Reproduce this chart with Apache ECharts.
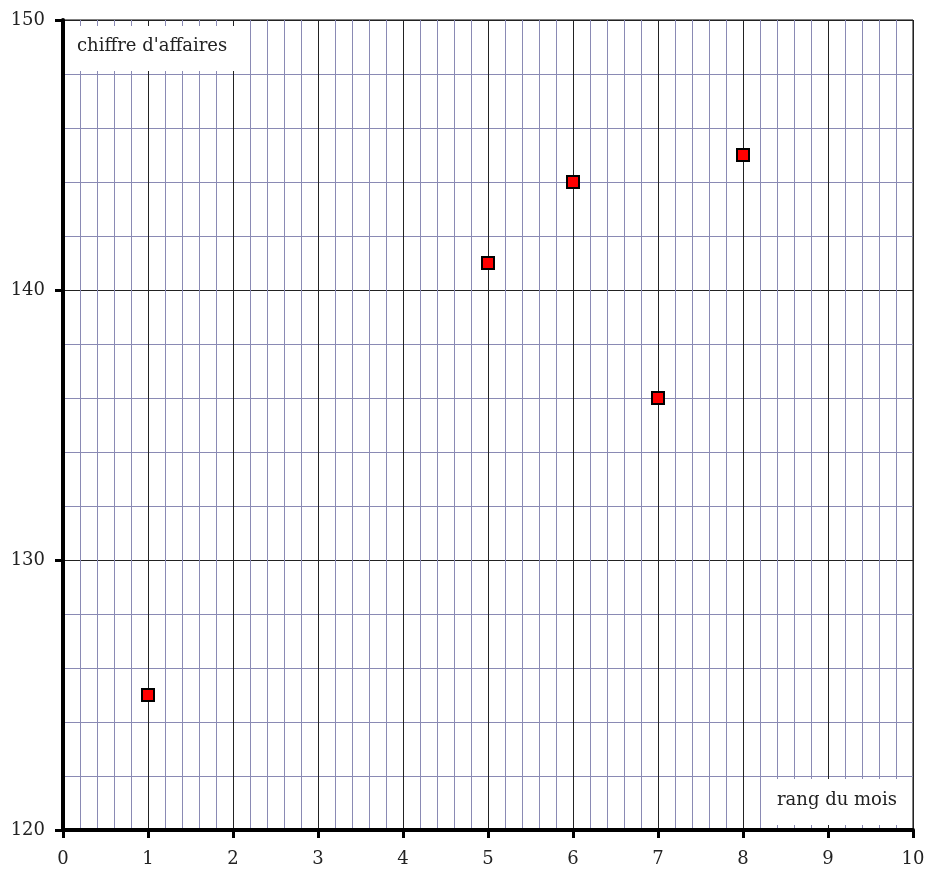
<!DOCTYPE html>
<html><head><meta charset="utf-8">
<script src="https://cdn.jsdelivr.net/npm/echarts@6/dist/echarts.min.js"></script>
<style>html,body{margin:0;padding:0;background:#fff}#c{width:928px;height:872px}</style>
</head><body><div id="c"></div>
<script>
const monthRank = [1, 5, 6, 7, 8];
const revenue = [125, 141, 144, 136, 145];
const xTicks = [0,1,2,3,4,5,6,7,8,9,10];
const yTicks = [120,130,140,150];
const xTitle = "rang du mois";
const yTitle = "chiffre d'affaires";

const font = "'DejaVu Serif', 'Liberation Serif', serif";
const chart = echarts.init(document.getElementById('c'));
chart.setOption({
  animation: false,
  backgroundColor: '#fff',
  grid: {left: 63, top: 20, right: 15, bottom: 42, show: true, borderColor: '#000', borderWidth: 1},
  graphic: [
    {type: 'rect', left: 66, top: 26, z: 100, shape: {width: 172, height: 45}, style: {fill: '#fff'}},
    {type: 'text', left: 77, top: 37, z: 101, style: {text: yTitle, font: "18px 'DejaVu Serif'", fill: '#222'}},
    {type: 'rect', left: 765, top: 779, z: 100, shape: {width: 146, height: 46}, style: {fill: '#fff'}},
    {type: 'text', left: 777, top: 791, z: 101, style: {text: xTitle, font: "18px 'DejaVu Serif'", fill: '#222'}}
  ],
  xAxis: {
    type: 'value', min: xTicks[0], max: xTicks[xTicks.length-1], interval: 1,
    axisLine: {show: true, onZero: false, lineStyle: {color: '#000', width: 4}},
    axisTick: {show: true, length: 8, lineStyle: {color: '#000', width: 3}},
    axisLabel: {margin: 20, fontFamily: font, fontSize: 18, color: '#222'},
    splitLine: {show: true, lineStyle: {color: '#222', width: 1}},
    minorTick: {show: false, splitNumber: 5},
    minorSplitLine: {show: true, lineStyle: {color: '#8a8ab4', width: 1}}
  },
  yAxis: {
    type: 'value', min: yTicks[0], max: yTicks[yTicks.length-1], interval: 10,
    axisLine: {show: true, onZero: false, lineStyle: {color: '#000', width: 4}},
    axisTick: {show: true, length: 8, lineStyle: {color: '#000', width: 3}},
    axisLabel: {margin: 18, fontFamily: font, fontSize: 18, color: '#222'},
    splitLine: {show: true, lineStyle: {color: '#222', width: 1}},
    minorTick: {show: false, splitNumber: 5},
    minorSplitLine: {show: true, lineStyle: {color: '#8a8ab4', width: 1}}
  },
  series: [{
    type: 'scatter', symbol: 'rect', symbolSize: 12, z: 10,
    itemStyle: {color: '#ff0000', borderColor: '#000', borderWidth: 2, opacity: 1},
    data: monthRank.map((x, i) => [x, revenue[i]])
  }]
});
</script></body></html>
